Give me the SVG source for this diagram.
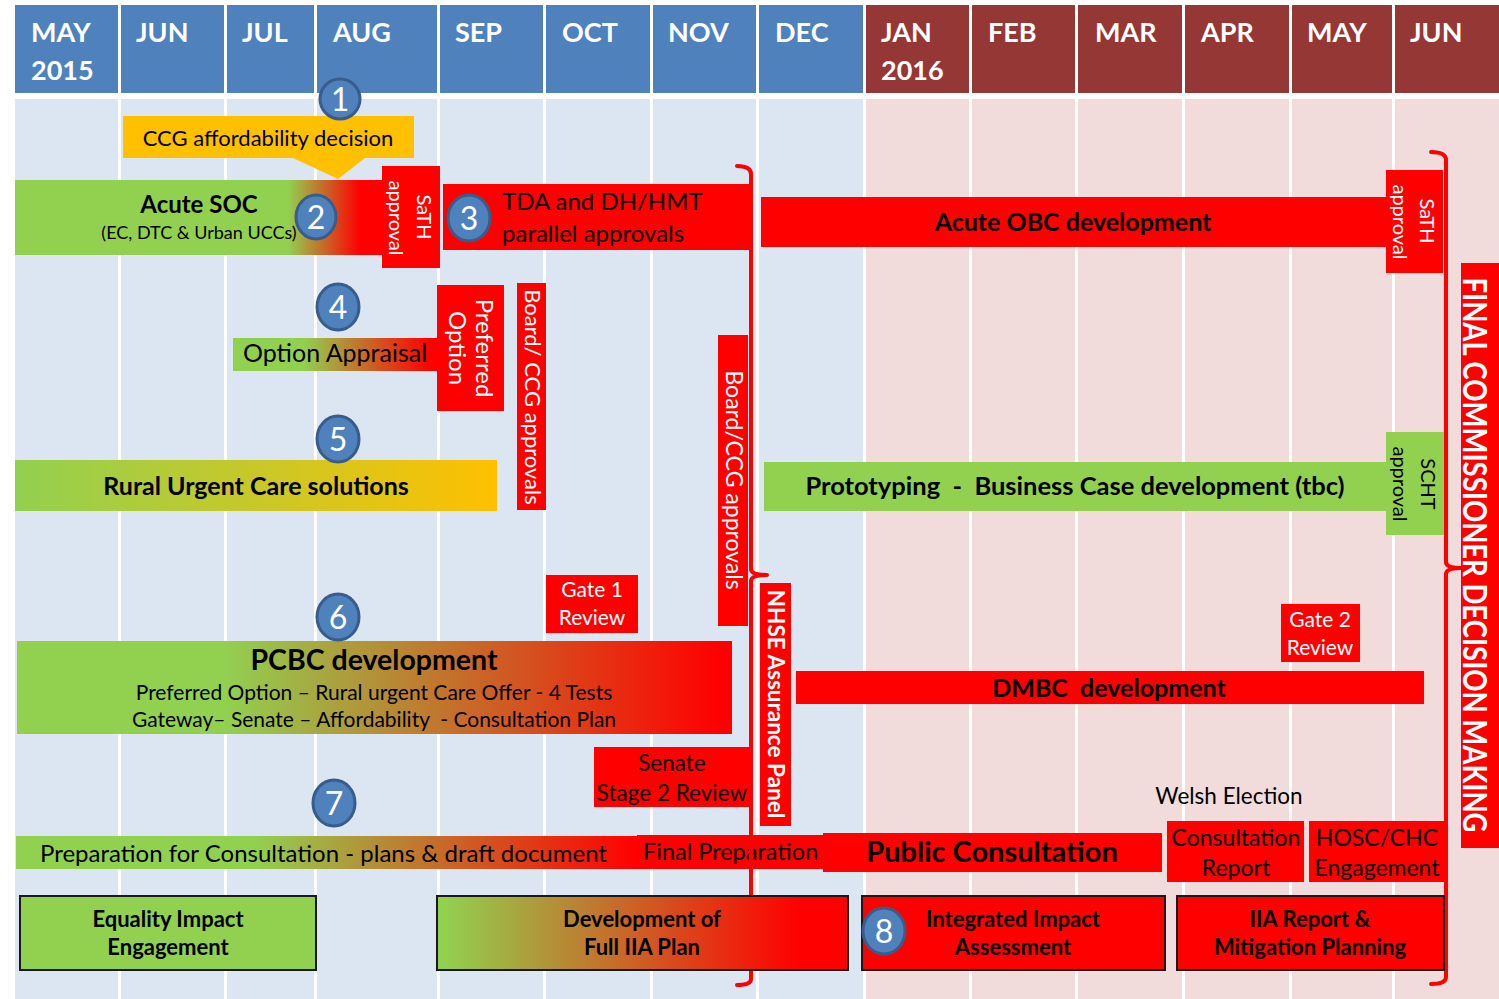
<svg xmlns="http://www.w3.org/2000/svg" width="1499" height="999" viewBox="0 0 1499 999">
<style>
text{font-family:Lato,"Open Sans","Liberation Sans",sans-serif;}
.hb{fill:#4f81bd}.hr{fill:#953735}
.bb{fill:#dce6f2}.br{fill:#f2dcdb}
.ht{fill:#fff;font-weight:bold;font-size:27px}
.red{fill:#ff0000}
.grn{fill:#92d050}
.k{fill:#000}
.w{fill:#fff}
.b{font-weight:bold}
.m{text-anchor:middle}
.num{fill:#4f81bd;stroke:#385d8a;stroke-width:3}
.nt{fill:#fff;font-size:32px;text-anchor:middle}
.box{stroke:#1a1a1a;stroke-width:2}
.br2{fill:none;stroke:#ff0000;stroke-width:4;stroke-linecap:round;stroke-linejoin:round}
</style>
<defs>
<linearGradient id="gSOC" gradientUnits="userSpaceOnUse" x1="288" y1="0" x2="360" y2="0"><stop offset="0" stop-color="#92d050"/><stop offset="1" stop-color="#ff0000"/></linearGradient>
<linearGradient id="gOA" gradientUnits="userSpaceOnUse" x1="303" y1="0" x2="430" y2="0"><stop offset="0" stop-color="#92d050"/><stop offset="1" stop-color="#ff0000"/></linearGradient>
<linearGradient id="gRU" gradientUnits="userSpaceOnUse" x1="15" y1="0" x2="497" y2="0"><stop offset="0" stop-color="#92d050"/><stop offset="1" stop-color="#ffc000"/></linearGradient>
<linearGradient id="gPC" gradientUnits="userSpaceOnUse" x1="225" y1="0" x2="720" y2="0"><stop offset="0" stop-color="#92d050"/><stop offset="1" stop-color="#ff0000"/></linearGradient>
<linearGradient id="gPR" gradientUnits="userSpaceOnUse" x1="255" y1="0" x2="637" y2="0"><stop offset="0" stop-color="#92d050"/><stop offset="1" stop-color="#ff0000"/></linearGradient>
<linearGradient id="gIIA" gradientUnits="userSpaceOnUse" x1="445" y1="0" x2="800" y2="0"><stop offset="0" stop-color="#92d050"/><stop offset="1" stop-color="#ff0000"/></linearGradient>
</defs>

<g id="timeline">
<rect class="hb" x="15" y="5" width="103" height="88"/>
<rect class="hb" x="121" y="5" width="103" height="88"/>
<rect class="hb" x="227" y="5" width="87" height="88"/>
<rect class="hb" x="317" y="5" width="120" height="88"/>
<rect class="hb" x="440" y="5" width="103" height="88"/>
<rect class="hb" x="546" y="5" width="104" height="88"/>
<rect class="hb" x="653" y="5" width="103" height="88"/>
<rect class="hb" x="759" y="5" width="104" height="88"/>
<rect class="hr" x="866" y="5" width="103" height="88"/>
<rect class="hr" x="972" y="5" width="103" height="88"/>
<rect class="hr" x="1078" y="5" width="104" height="88"/>
<rect class="hr" x="1185" y="5" width="104" height="88"/>
<rect class="hr" x="1292" y="5" width="100" height="88"/>
<rect class="hr" x="1395" y="5" width="104" height="88"/>
<rect class="bb" x="15" y="99" width="103" height="900"/>
<rect class="bb" x="121" y="99" width="103" height="900"/>
<rect class="bb" x="227" y="99" width="87" height="900"/>
<rect class="bb" x="317" y="99" width="120" height="900"/>
<rect class="bb" x="440" y="99" width="103" height="900"/>
<rect class="bb" x="546" y="99" width="104" height="900"/>
<rect class="bb" x="653" y="99" width="103" height="900"/>
<rect class="bb" x="759" y="99" width="104" height="900"/>
<rect class="br" x="866" y="99" width="103" height="900"/>
<rect class="br" x="972" y="99" width="103" height="900"/>
<rect class="br" x="1078" y="99" width="104" height="900"/>
<rect class="br" x="1185" y="99" width="104" height="900"/>
<rect class="br" x="1292" y="99" width="100" height="900"/>
<rect class="br" x="1395" y="99" width="104" height="900"/>
<text class="ht" x="31" y="42">MAY</text><text class="ht" x="31" y="80">2015</text>
<text class="ht" x="136" y="42">JUN</text>
<text class="ht" x="242" y="42">JUL</text>
<text class="ht" x="333" y="42">AUG</text>
<text class="ht" x="455" y="42">SEP</text>
<text class="ht" x="562" y="42">OCT</text>
<text class="ht" x="668" y="42">NOV</text>
<text class="ht" x="775" y="42">DEC</text>
<text class="ht" x="881" y="42">JAN</text><text class="ht" x="881" y="80">2016</text>
<text class="ht" x="988" y="42">FEB</text>
<text class="ht" x="1095" y="42">MAR</text>
<text class="ht" x="1201" y="42">APR</text>
<text class="ht" x="1307" y="42">MAY</text>
<text class="ht" x="1410" y="42">JUN</text>
</g>

<g id="ccg-affordability">
<polygon fill="#ffc000" points="123,116 414,116 414,158 365,158 338,179 293,158 123,158"/>
<text class="k m" x="268" y="146" font-size="22">CCG affordability decision</text>
</g>

<g id="acute-soc">
<rect x="15" y="180" width="368" height="75" fill="url(#gSOC)"/>
<text class="k m b" x="199" y="213" font-size="24">Acute SOC</text>
<text class="k m" x="199" y="239" font-size="18">(EC, DTC &amp; Urban UCCs)</text>
</g>

<g id="sath-approval-1">
<rect class="red" x="382" y="166" width="58" height="102"/>
<text class="w m" font-size="20" transform="translate(417,217) rotate(90)">SaTH</text>
<text class="w m" font-size="20" transform="translate(389,218) rotate(90)">approval</text>
</g>

<g id="tda">
<rect class="red" x="443" y="184" width="309" height="66"/>
<text class="k" x="502" y="210" font-size="24">TDA and DH/HMT</text>
<text class="k" x="502" y="242" font-size="24">parallel approvals</text>
</g>

<g id="acute-obc">
<rect class="red" x="761" y="197" width="627" height="50"/>
<text class="k m b" x="1073" y="231" font-size="25">Acute OBC development</text>
</g>

<g id="sath-approval-2">
<rect class="red" x="1386" y="170" width="57" height="103"/>
<text class="w m" font-size="20" transform="translate(1420,221) rotate(90)">SaTH</text>
<text class="w m" font-size="20" transform="translate(1393,222) rotate(90)">approval</text>
</g>

<g id="option-appraisal">
<rect x="233" y="338" width="205" height="33" fill="url(#gOA)"/>
<text class="k" x="243" y="362" font-size="25">Option Appraisal</text>
</g>

<g id="preferred-option">
<rect class="red" x="437" y="285" width="67" height="126"/>
<text class="w m" font-size="24" transform="translate(476,348) rotate(90)">Preferred</text>
<text class="w m" font-size="24" transform="translate(449,348) rotate(90)">Option</text>
</g>

<g id="board-ccg-1">
<rect class="red" x="517" y="283" width="29" height="227"/>
<text class="w m" font-size="22" transform="translate(525,397) rotate(90)">Board/ CCG approvals</text>
</g>

<g id="rural-urgent-care">
<rect x="15" y="460" width="482" height="51" fill="url(#gRU)"/>
<text class="k m b" x="256" y="495" font-size="25">Rural Urgent Care solutions</text>
</g>

<g id="board-ccg-2">
<rect class="red" x="718" y="335" width="30" height="291"/>
<text class="w m" font-size="23" transform="translate(726,480) rotate(90)">Board/CCG approvals</text>
</g>

<g id="prototyping">
<rect class="grn" x="764" y="462" width="624" height="49"/>
<text class="k m b" x="1075" y="495" font-size="25.5" xml:space="preserve">Prototyping  -  Business Case development (tbc)</text>
</g>

<g id="scht-approval">
<rect class="grn" x="1386" y="432" width="58" height="103"/>
<text class="k m" font-size="20" transform="translate(1421,484) rotate(90)">SCHT</text>
<text class="k m" font-size="20" transform="translate(1393,484) rotate(90)">approval</text>
</g>

<g id="gate-1">
<rect class="red" x="546" y="575" width="92" height="58"/>
<text class="w m" x="592" y="597" font-size="21">Gate 1</text>
<text class="w m" x="592" y="625" font-size="21">Review</text>
</g>

<g id="pcbc">
<rect x="17" y="641" width="715" height="93" fill="url(#gPC)"/>
<text class="k m b" x="374" y="670" font-size="28.5">PCBC development</text>
<text class="k m" x="374" y="700" font-size="21">Preferred Option – Rural urgent Care Offer - 4 Tests</text>
<text class="k m" x="374" y="727" font-size="21" xml:space="preserve">Gateway– Senate – Affordability  - Consultation Plan</text>
</g>

<g id="senate">
<rect class="red" x="594" y="747" width="156" height="60"/>
<text class="k m" x="672" y="771" font-size="22.5">Senate</text>
<text class="k m" x="672" y="801" font-size="22.5">Stage 2 Review</text>
</g>

<g id="nhse">
<rect class="red" x="760" y="583" width="31" height="243"/>
<text class="w m b" font-size="22.5" transform="translate(768,704) rotate(90)">NHSE Assurance Panel</text>
</g>

<g id="gate-2">
<rect class="red" x="1281" y="604" width="79" height="58"/>
<text class="w m" x="1320" y="627" font-size="21">Gate 2</text>
<text class="w m" x="1320" y="655" font-size="21">Review</text>
</g>

<g id="dmbc">
<rect class="red" x="796" y="671" width="628" height="33"/>
<text class="k m b" x="1109" y="697" font-size="25" xml:space="preserve">DMBC  development</text>
</g>

<g id="final-commissioner">
<rect class="red" x="1461" y="263" width="38" height="585"/>
<text class="w m b" font-size="27.5" transform="translate(1463,555) rotate(90) scale(1,1.2)">FINAL COMMISSIONER DECISION MAKING</text>
</g>

<g id="welsh-election">
<text class="k m" x="1229" y="804" font-size="22.5">Welsh Election</text>
</g>

<g id="preparation">
<rect x="16" y="836" width="621" height="33" fill="url(#gPR)"/>
<text class="k" x="40" y="862" font-size="24">Preparation for Consultation - plans &amp; draft document</text>
</g>

<g id="final-preparation">
<rect class="red" x="637" y="835" width="190" height="34"/>
<text class="k" x="643" y="860" font-size="23.5">Final Preparation</text>
</g>

<g id="public-consultation">
<rect class="red" x="823" y="833" width="339" height="39"/>
<text class="k m b" x="992" y="862" font-size="29">Public Consultation</text>
</g>

<g id="consultation-report">
<rect class="red" x="1167" y="821" width="137" height="61"/>
<text class="k m" x="1236" y="846" font-size="23">Consultation</text>
<text class="k m" x="1236" y="876" font-size="23">Report</text>
</g>

<g id="hosc-chc">
<rect class="red" x="1309" y="821" width="135" height="61"/>
<text class="k m" x="1377" y="846" font-size="23">HOSC/CHC</text>
<text class="k m" x="1377" y="876" font-size="23">Engagement</text>
</g>

<g id="connectors">
<path class="br2" d="M737,166 Q751,166 751,174 V569 Q751,575 767,575 Q751,575 751,581 V979 Q751,985 737,985"/>
<path class="br2" d="M1431,152 Q1446,152 1446,160 V562 Q1446,568 1461,568 Q1446,568 1446,574 V977 Q1446,984 1431,984"/>
</g>

<g id="equality-impact">
<rect class="grn box" x="20" y="896" width="296" height="74"/>
<text class="k m b" x="168" y="927" font-size="22">Equality Impact</text>
<text class="k m b" x="168" y="955" font-size="22">Engagement</text>
</g>

<g id="full-iia-plan">
<rect class="box" x="437" y="896" width="411" height="74" fill="url(#gIIA)"/>
<text class="k m b" x="642" y="927" font-size="22">Development of</text>
<text class="k m b" x="642" y="955" font-size="22">Full IIA Plan</text>
</g>

<g id="integrated-impact">
<rect class="red box" x="862" y="896" width="303" height="74"/>
<text class="k m b" x="1013" y="927" font-size="22">Integrated Impact</text>
<text class="k m b" x="1013" y="955" font-size="22">Assessment</text>
</g>

<g id="iia-report">
<rect class="red box" x="1177" y="896" width="267" height="74"/>
<text class="k m b" x="1310" y="927" font-size="22">IIA Report &amp;</text>
<text class="k m b" x="1310" y="955" font-size="22">Mitigation Planning</text>
</g>

<g id="num-1"><ellipse class="num" cx="340" cy="99" rx="20" ry="20"/><text class="nt" x="340" y="111">1</text></g>
<g id="num-2"><ellipse class="num" cx="316" cy="217" rx="20" ry="22"/><text class="nt" x="316" y="229">2</text></g>
<g id="num-3"><ellipse class="num" cx="469" cy="218" rx="21" ry="23"/><text class="nt" x="469" y="230">3</text></g>
<g id="num-4"><ellipse class="num" cx="338" cy="307" rx="21" ry="23"/><text class="nt" x="338" y="319">4</text></g>
<g id="num-5"><ellipse class="num" cx="338" cy="439" rx="21" ry="23"/><text class="nt" x="338" y="451">5</text></g>
<g id="num-6"><ellipse class="num" cx="338" cy="617" rx="21" ry="23"/><text class="nt" x="338" y="629">6</text></g>
<g id="num-7"><ellipse class="num" cx="334" cy="803" rx="21" ry="23"/><text class="nt" x="334" y="815">7</text></g>
<g id="num-8"><ellipse class="num" cx="884" cy="931" rx="21" ry="23"/><text class="nt" x="884" y="943">8</text></g>
</svg>
